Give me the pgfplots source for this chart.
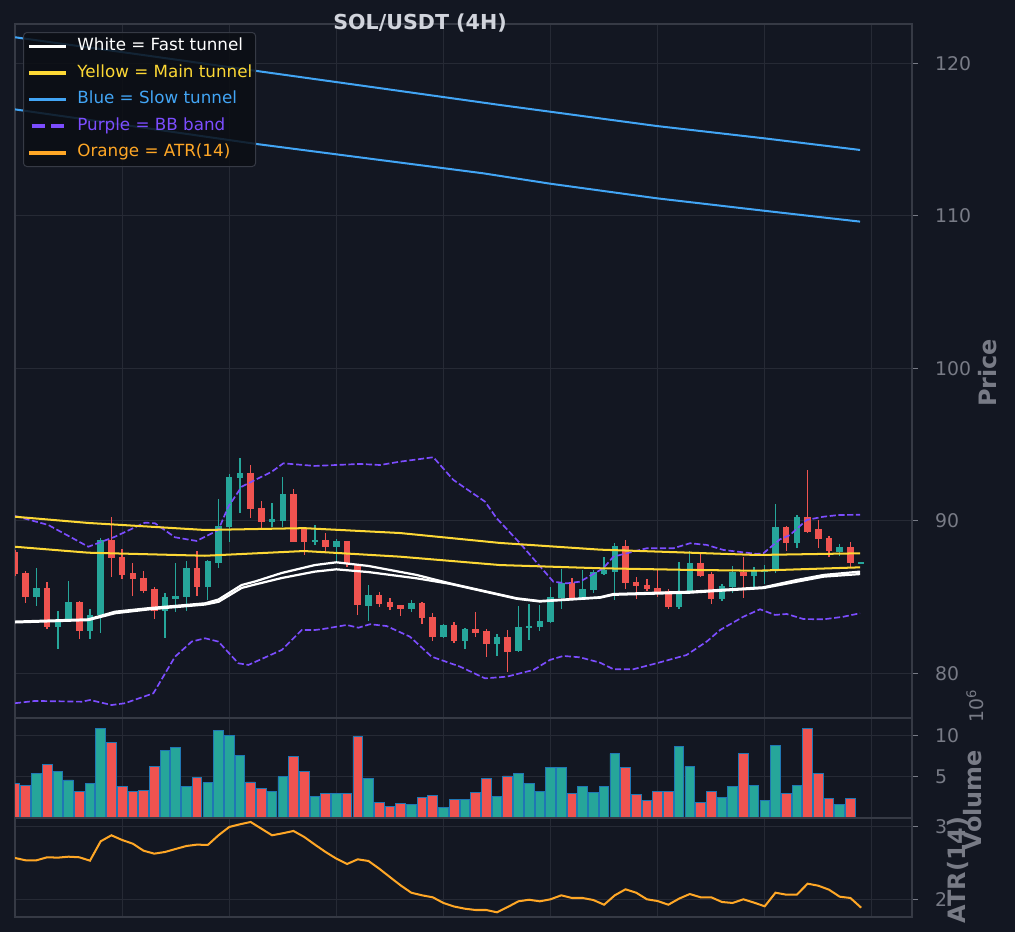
\documentclass[border=0pt]{standalone}
\usepackage{pgfplots}
\usepackage{pgfplotstable}
\pgfplotsset{compat=1.18}
\usepackage{fontspec}
\setmainfont{DejaVu Sans}

\definecolor{bg}{HTML}{131722}
\definecolor{gridc}{HTML}{262A35}
\definecolor{spinec}{HTML}{363A45}
\definecolor{tickc}{HTML}{787B86}
\definecolor{upc}{HTML}{26A69A}
\definecolor{dnc}{HTML}{EF5350}
\definecolor{voledge}{HTML}{1F77B4}
\definecolor{whc}{HTML}{FFFFFF}
\definecolor{yec}{HTML}{FDD835}
\definecolor{blc}{HTML}{42A5F5}
\definecolor{puc}{HTML}{7C4DFF}
\definecolor{orc}{HTML}{FFA726}
\definecolor{legbg}{HTML}{0B0E14}
\definecolor{legedge}{HTML}{363A45}
\definecolor{titc}{HTML}{D1D4DC}

% candles: index, open, high, low, close, volume (1e6)
\pgfplotstableread{
i o h l c v
2 85.04 86.92 84.45 85.58 5.33
4 83.07 84.10 81.61 83.51 5.57
5 83.51 86.06 83.40 84.71 4.59
7 82.81 84.21 82.26 83.83 4.15
8 83.83 88.86 82.68 88.75 10.81
14 84.10 85.26 82.35 84.99 8.13
15 84.86 87.22 84.03 85.08 8.50
16 84.99 87.38 84.12 86.90 3.86
18 85.65 87.44 84.82 87.35 4.27
19 87.27 91.42 86.94 89.69 10.57
20 89.63 93.08 88.64 92.86 9.96
21 92.80 94.15 90.55 93.12 7.52
24 89.91 91.16 89.58 90.11 3.25
25 90.02 92.91 89.58 91.77 4.96
28 88.62 89.74 88.42 88.75 2.64
30 88.27 88.82 87.33 88.67 2.93
33 84.45 85.80 83.44 85.15 4.72
37 84.21 84.82 84.05 84.60 1.59
40 82.37 83.25 82.35 83.16 1.30
42 82.15 82.96 81.61 82.90 2.20
45 81.93 82.59 81.17 82.41 2.64
47 81.50 84.42 81.43 83.07 5.33
48 83.03 84.55 82.20 83.11 4.15
49 83.03 84.49 82.81 83.46 3.25
50 83.40 85.69 83.33 84.99 6.06
51 84.93 86.83 84.23 85.91 6.06
53 84.93 86.79 84.82 85.52 3.78
54 85.47 86.79 85.30 86.63 3.13
55 86.52 87.62 86.46 86.79 3.78
56 86.68 88.53 84.82 88.36 7.76
62 84.38 87.33 84.23 85.41 8.66
63 85.37 88.03 85.26 87.22 6.18
66 84.86 85.85 84.77 85.76 2.52
67 85.69 87.05 85.30 86.68 3.78
69 86.41 87.00 85.65 86.72 3.98
70 86.68 87.11 85.87 86.74 2.15
71 86.79 91.11 86.61 89.63 8.78
73 88.53 90.39 88.25 90.24 3.90
77 87.99 88.49 87.70 88.32 1.59
79 87.22 87.29 87.16 87.29 0.08
}\up

\pgfplotstableread{
i o h l c v
0 87.99 88.10 86.40 86.50 4.15
1 86.57 86.72 84.64 85.04 3.98
3 85.58 85.98 82.92 83.07 6.50
6 84.71 84.75 82.26 82.81 3.25
9 88.75 90.24 86.35 87.55 9.11
10 87.62 88.16 86.20 86.46 3.86
11 86.57 87.22 85.10 86.17 3.25
12 86.24 86.72 85.30 85.43 3.37
13 85.52 85.69 83.57 84.10 6.18
17 86.90 88.03 85.10 85.65 4.84
22 93.12 93.67 90.22 90.76 4.35
23 90.83 91.31 89.52 89.91 3.58
26 91.77 92.10 88.60 88.64 7.40
27 89.52 89.55 87.77 88.60 5.65
29 88.75 89.19 87.92 88.27 3.01
31 88.67 88.69 87.00 87.18 3.01
32 87.18 87.20 83.83 84.49 9.84
34 85.15 85.32 84.38 84.53 1.91
35 84.66 84.93 84.16 84.38 1.42
36 84.47 84.49 83.79 84.21 1.79
38 84.60 84.66 83.22 83.62 2.52
39 83.68 83.94 82.15 82.37 2.76
41 83.16 83.35 82.02 82.15 2.28
43 82.90 84.01 82.41 82.63 3.13
44 82.76 82.92 81.10 81.93 4.72
46 82.41 82.85 80.12 81.43 5.08
52 85.91 86.24 84.86 84.93 3.01
57 88.36 88.75 85.54 85.91 6.06
58 85.98 86.35 84.88 85.76 2.89
59 85.80 86.20 85.43 85.52 2.15
60 85.58 86.79 85.04 85.30 3.25
61 85.41 85.54 84.23 84.38 3.25
64 87.22 87.81 86.35 86.41 1.91
65 86.52 86.68 84.55 84.86 3.25
68 86.68 87.66 84.97 86.41 7.76
72 89.63 89.67 88.05 88.53 3.01
74 90.24 93.34 89.23 89.30 10.81
75 89.45 90.07 88.25 88.80 5.33
76 88.86 89.01 87.66 88.05 2.40
78 88.32 88.60 86.96 87.22 2.40
}\dn

% fast tunnel (white)
\pgfplotstableread{
i p
0 83.40
6.85 83.55
9.34 84.05
12.45 84.28
17.74 84.60
19 84.85
21.16 85.80
22.5 86.05
24.9 86.59
28 87.11
30 87.29
33 87.05
37.5 86.46
40.6 85.91
46.84 84.93
49 84.75
54.62 85.00
55.87 85.21
63 85.36
69.87 85.65
73 86.13
75.5 86.46
78.9 86.68
}\wA
\pgfplotstableread{
i p
0 83.35
6.85 83.50
9.34 83.95
12.45 84.20
17.74 84.52
19 84.70
21.16 85.61
22.5 85.85
24.9 86.26
28 86.68
30 86.83
33 86.65
37.5 86.24
40.6 85.88
46.84 84.90
49 84.72
54.62 84.97
55.87 85.16
63 85.30
69.87 85.60
73 86.02
75.5 86.35
78.9 86.52
}\wB

% main tunnel (yellow)
\pgfplotstableread{
i p
0 90.28
6.85 89.87
17.74 89.41
27 89.53
35.95 89.21
45.28 88.56
54.62 88.12
63.03 87.92
69.25 87.77
78.9 87.88
}\yA
\pgfplotstableread{
i p
0 88.31
6.85 87.92
17.74 87.72
27 88.03
35.95 87.66
45.28 87.11
54.62 86.90
63.03 86.79
69.25 86.74
78.9 86.96
}\yB

% slow tunnel (blue)
\pgfplotstableread{
i p
0 121.72
11 120.65
22.57 119.51
34 118.39
45.28 117.28
49.95 116.84
59.92 115.90
69.87 115.10
78.9 114.33
}\bA
\pgfplotstableread{
i p
0 116.99
11 115.89
22.57 114.72
34 113.68
43.7 112.80
49.95 112.12
59.92 111.16
69.87 110.35
78.9 109.63
}\bB

% Bollinger band (purple)
\pgfplotstableread{
i p
0 90.33
3.1 89.74
6.85 88.31
9.34 88.97
12.14 89.89
13.07 89.85
14.94 88.93
16.96 88.69
18.99 89.41
19.92 90.94
21.16 92.25
23.97 93.23
25.05 93.78
28 93.61
32.21 93.74
34.08 93.67
35.95 93.89
39.06 94.18
40.93 92.69
43.88 91.27
44.97 90.18
47.15 88.54
50.26 86.02
51.51 85.91
52.75 86.02
54.93 86.90
55.87 87.66
58.98 88.21
61.47 88.21
63.03 88.54
64.58 88.43
66.14 88.10
69.25 87.84
69.87 87.88
71.43 88.80
72.36 89.08
73.92 90.07
75.48 90.28
76.88 90.39
78.9 90.41
}\bbU
\pgfplotstableread{
i p
0 78.05
1.87 78.20
6.22 78.15
7.0 78.26
9.03 77.93
10.27 78.05
12.92 78.70
14.94 81.10
16.5 82.09
17.74 82.31
18.99 82.09
20.85 80.67
21.79 80.56
24.9 81.54
26.77 82.85
28.0 82.85
28.79 82.92
30.97 83.18
32.06 83.00
33.15 83.23
34.7 83.11
36.88 82.41
38.9 81.10
41.55 80.45
43.88 79.68
45.9 79.79
48.4 80.23
49.95 80.89
51.2 81.15
52.75 81.06
54.62 80.71
55.87 80.28
57.74 80.28
59.9 80.67
62.7 81.21
64.58 82.09
65.83 82.85
68.0 83.72
69.56 84.21
70.96 83.84
72.05 83.90
73.61 83.57
75.48 83.55
77.34 83.72
78.9 83.95
}\bbL

% ATR(14)
\pgfplotstableread{
i a
0 2.571
1 2.539
2 2.539
3 2.581
4 2.576
5 2.589
6 2.581
7 2.534
8 2.802
9 2.885
10 2.820
11 2.769
12 2.672
13 2.631
14 2.654
15 2.696
16 2.737
17 2.756
18 2.751
19 2.885
20 3.000
21 3.037
22 3.069
23 2.977
24 2.885
25 2.913
26 2.945
27 2.862
28 2.756
29 2.654
30 2.562
31 2.488
32 2.553
33 2.530
34 2.424
35 2.308
36 2.193
37 2.091
38 2.055
39 2.028
40 1.949
41 1.900
42 1.870
43 1.852
44 1.852
45 1.820
46 1.893
47 1.972
48 1.994
49 1.972
50 2.000
51 2.055
52 2.018
53 2.018
54 1.990
55 1.925
56 2.055
57 2.138
58 2.091
59 2.000
60 1.976
61 1.925
62 2.009
63 2.073
64 2.028
65 2.028
66 1.963
67 1.949
68 2.000
69 1.954
70 1.903
71 2.091
72 2.064
73 2.064
74 2.216
75 2.188
76 2.133
77 2.036
78 2.018
79 1.884
}\atr

\pgfplotsset{
  panel/.style={
    scale only axis, width=645.84bp,
    xmin=0, xmax=83.75,
    axis background/.style={fill=bg},
    xtick={10,20,...,80}, xticklabels={}, xtick style={draw=none},
    grid=major, major grid style={draw=gridc, line width=0.72bp},
    axis line style={draw=spinec, line width=1.6bp},
    ytick pos=right, yticklabel pos=right,
    tick align=outside, major tick length=4.3bp,
    ytick style={draw=tickc, line width=0.72bp},
    yticklabel style={font=\fontsize{13.6}{16}\selectfont, text=tickc, anchor=west, inner sep=0pt, xshift=12.2bp},
    /pgf/number format/assume math mode=true,
  },
  wick/.style={draw=none, mark=none, forget plot,
    error bars/.cd, y dir=both, y explicit, error mark=none,
    error bar style={line width=0.95bp, draw=#1, solid}},
  body/.style={draw=none, mark=none, forget plot,
    error bars/.cd, y dir=both, y explicit, error mark=none,
    error bar style={line width=4.7bp, draw=#1, solid}},
}

\begin{document}
\begin{tikzpicture}
\path[use as bounding box, fill=bg] (0,0) rectangle (730.8bp,-671.04bp);

% ---------- price panel ----------
\begin{axis}[panel, name=price, at={(10.8bp,-17.28bp)}, anchor=north west,
  height=499.68bp, ymin=77.08, ymax=122.59, ytick={80,90,...,120},
  legend image code/.code={\draw[#1] (0bp,0bp) -- (26.6bp,0bp);},
  legend style={at={(0,1)}, anchor=north west, xshift=5.76bp, yshift=-5.76bp,
    fill=legbg, fill opacity=0.85, text opacity=1, draw=legedge, line width=0.72bp,
    rounded corners=2.5bp, inner xsep=2.4bp, inner ysep=4.3bp, row sep=7.6bp,
    font=\fontsize{12.1}{14}\selectfont,
    nodes={inner sep=0pt, text height=8.9bp, text depth=2.6bp},
    /tikz/column 1/.style={column sep=7.0bp}},
  legend cell align=left]
  % wicks
  \addplot[wick=upc] table[x=i, y expr={(\thisrow{h}+\thisrow{l})/2}, y error expr={(\thisrow{h}-\thisrow{l})/2}] {\up};
  \addplot[wick=dnc] table[x=i, y expr={(\thisrow{h}+\thisrow{l})/2}, y error expr={(\thisrow{h}-\thisrow{l})/2}] {\dn};
  % bodies
  \addplot[body=upc] table[x=i, y expr={(\thisrow{o}+\thisrow{c})/2}, y error expr={(\thisrow{c}-\thisrow{o})/2}] {\up};
  \addplot[body=dnc] table[x=i, y expr={(\thisrow{o}+\thisrow{c})/2}, y error expr={(\thisrow{o}-\thisrow{c})/2}] {\dn};
  % overlays
  \addplot[puc, line width=1.2bp, dash pattern=on 4.4bp off 1.9bp, forget plot] table[x=i,y=p] {\bbU};
  \addplot[puc, line width=1.2bp, dash pattern=on 4.4bp off 1.9bp, forget plot] table[x=i,y=p] {\bbL};
  \addplot[blc, line width=1.45bp, forget plot] table[x=i,y=p] {\bA};
  \addplot[blc, line width=1.45bp, forget plot] table[x=i,y=p] {\bB};
  \addplot[yec, line width=1.45bp, forget plot] table[x=i,y=p] {\yA};
  \addplot[yec, line width=1.45bp, forget plot] table[x=i,y=p] {\yB};
  \addplot[whc, line width=1.6bp, forget plot] table[x=i,y=p] {\wA};
  \addplot[whc, line width=1.6bp, forget plot] table[x=i,y=p] {\wB};
  % legend
  \addlegendimage{whc, line width=2.8bp}
  \addlegendentry{\textcolor{whc}{White = Fast tunnel}}
  \addlegendimage{yec, line width=2.8bp}
  \addlegendentry{\textcolor{yec}{Yellow = Main tunnel}}
  \addlegendimage{blc, line width=2.8bp}
  \addlegendentry{\textcolor{blc}{Blue = Slow tunnel}}
  \addlegendimage{puc, line width=2.8bp, dash pattern=on 9.4bp off 4.6bp, dash phase=-2bp}
  \addlegendentry{\textcolor{puc}{Purple = BB band}}
  \addlegendimage{orc, line width=2.8bp}
  \addlegendentry{\textcolor{orc}{Orange = ATR(14)}}
\end{axis}

% ---------- volume panel ----------
\begin{axis}[panel, name=vol, at={(10.8bp,-516.96bp)}, anchor=north west,
  height=72bp, ymin=0, ymax=12.07, ytick={5,10}]
  \addplot[ybar, bar width=0.9, bar shift=0pt, fill=upc, draw=voledge, line width=0.6bp, forget plot] table[x=i, y=v] {\up};
  \addplot[ybar, bar width=0.9, bar shift=0pt, fill=dnc, draw=voledge, line width=0.6bp, forget plot] table[x=i, y=v] {\dn};
\end{axis}

% ---------- ATR panel ----------
\begin{axis}[panel, name=atrax, at={(10.8bp,-588.96bp)}, anchor=north west,
  height=71.28bp, ymin=1.755, ymax=3.124, ytick={2,3}]
  \addplot[orc, line width=1.45bp, forget plot] table[x=i, y=a] {\atr};
\end{axis}

% ---------- labels ----------
\node[rotate=90, font=\fontsize{13.6}{16}\selectfont, text=tickc] at ([xshift=45.4bp, yshift=8.64bp]vol.north east) {10\textsuperscript{6}};
\node[rotate=90, font=\bfseries\fontsize{17.3}{20}\selectfont, text=tickc] at ([xshift=33.1bp, yshift=33.8bp]atrax.south east) {ATR(14)};
\node[rotate=90, font=\bfseries\fontsize{17.3}{20}\selectfont, text=tickc] at ([xshift=43.9bp, yshift=12.96bp]vol.south east) {Volume};
\node[rotate=90, font=\bfseries\fontsize{17.3}{20}\selectfont, text=tickc] at ([xshift=54.7bp, yshift=-1.44bp]price.east) {Price};
\node[font=\bfseries\fontsize{14.9}{17}\selectfont, text=titc] at (302.4bp,-16.56bp) {SOL/USDT (4H)};
\end{tikzpicture}
\end{document}
